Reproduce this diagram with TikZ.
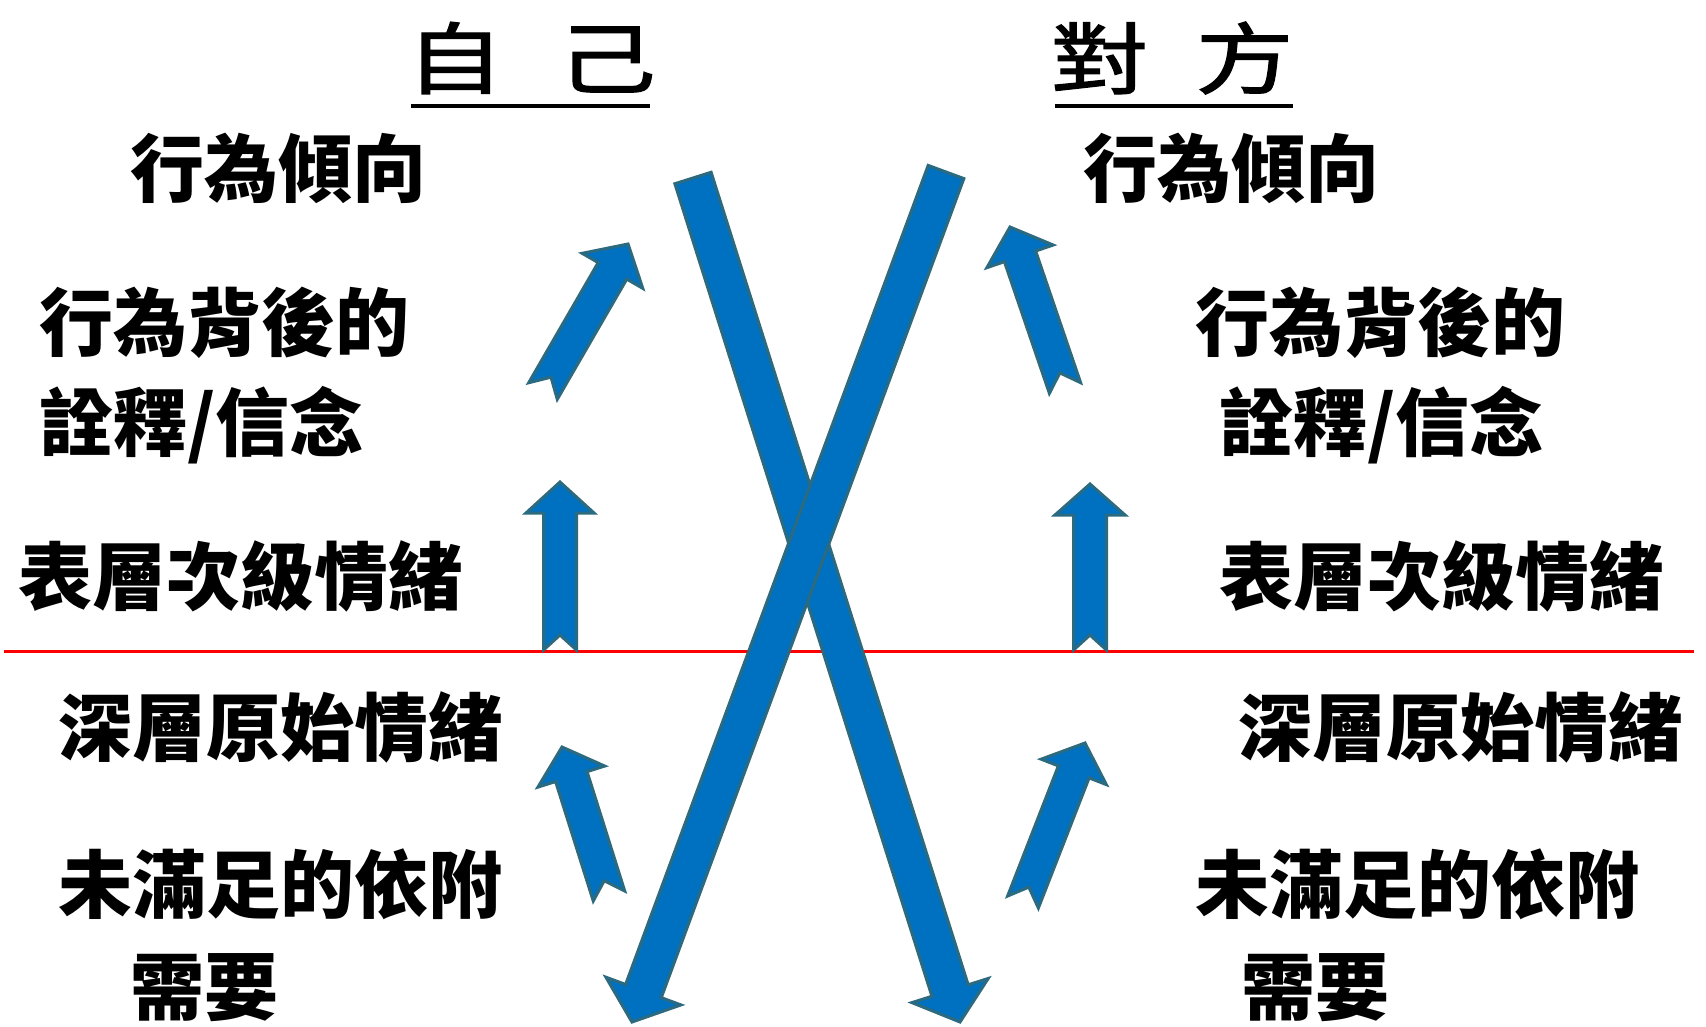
\documentclass[tikz,border=0pt]{standalone}
\usepackage{fontspec}
\setmainfont{Noto Sans CJK TC}
\newfontfamily\titlefont{Noto Sans CJK TC}[FakeBold=1.5]
\usetikzlibrary{calc}
\definecolor{arrowfill}{RGB}{0,112,192}
\definecolor{arrowline}{RGB}{44,106,128}
\newcommand{\widechar}[1]{\scalebox{1.25}[1]{#1}}
\tikzset{
  lbl/.style={anchor=west, inner sep=0pt, font=\fontsize{74}{80}\selectfont\bfseries},
  ttl/.style={inner sep=0pt, font=\fontsize{78}{84}\selectfont\titlefont},
  blk/.style={fill=arrowfill, draw=arrowline, line width=3pt, line join=miter},
  uline/.style={line width=3.5pt},
  divider/.style={red, line width=3pt},
}
% tail, tip, half shaft, half head, head length, notch depth
\newcommand{\blockarrow}[6]{%
  \coordinate (#1-base) at ($(#2)!#5!(#1)$);
  \coordinate (#1-notch) at ($(#1)!#6!(#2)$);
  \filldraw[blk] ($(#1)!#3!90:(#2)$) -- ($(#1-base)!#3!90:(#2)$)
    -- ($(#1-base)!#4!90:(#2)$) -- (#2) -- ($(#1-base)!#4!-90:(#2)$)
    -- ($(#1-base)!#3!-90:(#2)$) -- ($(#1)!#3!-90:(#2)$) -- (#1-notch) -- cycle;
}
\begin{document}
\begin{tikzpicture}[x=1pt,y=-1pt]
\useasboundingbox[fill=white] (0,0) rectangle (1706,1026);

% titles
\node[ttl] (self) at (531,58) {\widechar{自}\hspace{54.5pt}\widechar{己}};
\node[ttl] (other) at (1172,58) {\widechar{對}\hspace{47.5pt}\widechar{方}};
\draw[uline] (411,106) -- (650,106);
\draw[uline] (1055,106) -- (1293,106);

% divider
\draw[divider] (4,651) -- (1694,651);

% left labels
\node[lbl] (l1) at (130,168) {行為傾向};
\node[lbl] (l2) at (39,323) {行為背後的};
\node[lbl] (l3) at (39,425) {詮釋/信念};
\node[lbl] (l4) at (18,576) {表層次級情緒};
\node[lbl] (l5) at (58,727) {深層原始情緒};
\node[lbl] (l6) at (58,884) {未滿足的依附};
\node[lbl] (l7) at (130,988) {需要};

% right labels
\node[lbl] (r1) at (1083,168) {行為傾向};
\node[lbl] (r2) at (1195,323) {行為背後的};
\node[lbl] (r3) at (1219,425) {詮釋/信念};
\node[lbl] (r4) at (1219,576) {表層次級情緒};
\node[lbl] (r5) at (1238,727) {深層原始情緒};
\node[lbl] (r6) at (1195,884) {未滿足的依附};
\node[lbl] (r7) at (1241,988) {需要};

% arrow end points
\coordinate (a1t) at (543,391);  \coordinate (a1h) at (628,244);
\coordinate (a2t) at (560,650);  \coordinate (a2h) at (560,482);
\coordinate (a3t) at (609,896);  \coordinate (a3h) at (562,747);
\coordinate (a4t) at (1065,388); \coordinate (a4h) at (1010,227);
\coordinate (a5t) at (1090,650); \coordinate (a5h) at (1090,484);
\coordinate (a6t) at (1023,902); \coordinate (a6h) at (1085,743);
\coordinate (bAt) at (693,178);  \coordinate (bAh) at (960,1022);
\coordinate (bBt) at (946,172);  \coordinate (bBh) at (632,1022);

% small arrows
\blockarrow{a1t}{a1h}{16.5pt}{35pt}{31pt}{16pt}
\blockarrow{a2t}{a2h}{16.5pt}{34pt}{31pt}{15pt}
\blockarrow{a3t}{a3h}{16.5pt}{35pt}{31pt}{16pt}
\blockarrow{a4t}{a4h}{16.5pt}{35pt}{31pt}{16pt}
\blockarrow{a5t}{a5h}{16.5pt}{35pt}{31pt}{15pt}
\blockarrow{a6t}{a6h}{16.5pt}{35pt}{31pt}{16pt}

% big crossing arrows
\blockarrow{bAt}{bAh}{19pt}{40pt}{33pt}{0pt}
\blockarrow{bBt}{bBh}{19pt}{40pt}{33pt}{0pt}
\end{tikzpicture}
\end{document}
